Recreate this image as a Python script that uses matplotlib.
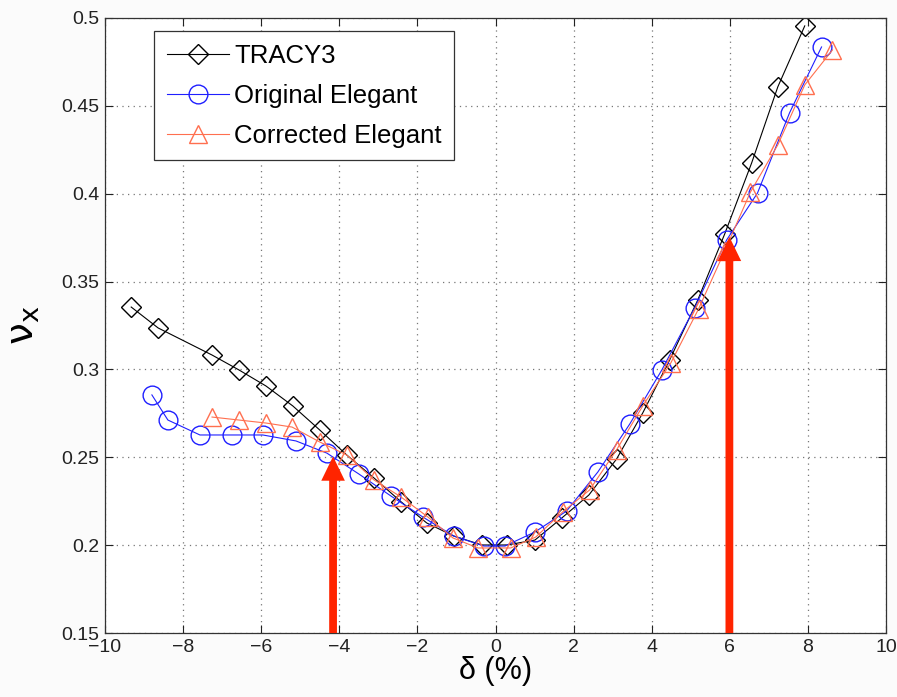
import matplotlib
matplotlib.use("Agg")
import matplotlib.pyplot as plt
from matplotlib.patches import FancyArrowPatch

plt.rcParams["font.family"] = ["Liberation Sans", "DejaVu Sans"]
plt.rcParams["mathtext.fontset"] = "dejavusans"

# TRACY3 (black diamonds)
tracy_x = [-9.33, -8.64, -7.26, -6.57, -5.88, -5.19, -4.50, -3.81, -3.11, -2.42,
           -1.76, -1.07, -0.35, 0.29, 1.01, 1.70, 2.39, 3.10, 3.77, 4.46,
           5.18, 5.87, 6.56, 7.23, 7.92]
tracy_y = [0.3355, 0.3236, 0.3082, 0.2997, 0.2906, 0.2792, 0.2655, 0.2513, 0.2382, 0.2247,
           0.2126, 0.2052, 0.2001, 0.2001, 0.2029, 0.2155, 0.2285, 0.2490, 0.2752, 0.3054,
           0.3395, 0.3771, 0.4175, 0.4608, 0.4955]

# Original Elegant (blue circles)
orig_x = [-8.80, -8.39, -7.57, -6.75, -5.96, -5.11, -4.32, -3.50, -2.68, -1.86,
          -1.07, -0.30, 0.24, 1.01, 1.82, 2.62, 3.44, 4.26, 5.10, 5.92,
          6.71, 7.53, 8.35]
orig_y = [0.2855, 0.2712, 0.2627, 0.2627, 0.2627, 0.2593, 0.2524, 0.2405, 0.2280, 0.2160,
          0.2052, 0.1995, 0.1995, 0.2075, 0.2194, 0.2416, 0.2690, 0.2997, 0.3350, 0.3737,
          0.4004, 0.4460, 0.4835]

# Corrected Elegant (orange triangles)
corr_x = [-7.26, -6.57, -5.88, -5.21, -4.50, -3.81, -3.11, -2.42, -1.73, -1.09,
          -0.45, 0.39, 1.03, 1.72, 2.41, 3.10, 3.77, 4.49, 5.20, 5.87,
          6.53, 7.23, 7.92, 8.63]
corr_y = [0.2729, 0.2712, 0.2695, 0.2672, 0.2587, 0.2513, 0.2371, 0.2274, 0.2160, 0.2041,
          0.1984, 0.1984, 0.2046, 0.2189, 0.2314, 0.2542, 0.2792, 0.3037, 0.3344, 0.3674,
          0.4010, 0.4278, 0.4619, 0.4818]

# red annotation arrows: x position, tip height
arrow_x = [-4.16, 5.99]
arrow_tip = [0.2505, 0.3755]

xticks = [-10, -8, -6, -4, -2, 0, 2, 4, 6, 8, 10]
yticks = [0.15, 0.2, 0.25, 0.3, 0.35, 0.4, 0.45, 0.5]
ytick_labels = ["0.15", "0.2", "0.25", "0.3", "0.35", "0.4", "0.45", "0.5"]

BLUE = "#1f1fff"; ORANGE = "#ff6f4f"; RED = "#ff2400"

fig = plt.figure(figsize=(8.97, 6.97), dpi=100)
fig.patch.set_facecolor("#fbfbfb")
ax = fig.add_axes([0.1171, 0.0918, 0.8706, 0.8824])

ax.plot(tracy_x, tracy_y, color="black", lw=0.8, marker="D", ms=10.2,
        mfc="none", mec="black", mew=1.0, label="TRACY3")
ax.plot(orig_x, orig_y, color=BLUE, lw=0.8, marker="o", ms=13.5,
        mfc="none", mec=BLUE, mew=1.0, label="Original Elegant")
ax.plot(corr_x, corr_y, color=ORANGE, lw=0.8, marker="^", ms=13.5,
        mfc="none", mec=ORANGE, mew=1.0, label="Corrected Elegant")

for xa, ya in zip(arrow_x, arrow_tip):
    arr = FancyArrowPatch((xa, 0.15), (xa, ya),
                          arrowstyle="simple,head_length=1.75,head_width=1.7,tail_width=0.56",
                          mutation_scale=10, color=RED, lw=0, shrinkA=0, shrinkB=0,
                          zorder=5, clip_on=False)
    ax.add_patch(arr)

ax.set_xlim(-10, 10)
ax.set_ylim(0.15, 0.5)
ax.set_xticks(xticks)
ax.set_yticks(yticks)
ax.set_yticklabels(ytick_labels)
ax.tick_params(direction="in", top=True, right=True, length=6, width=0.8,
               labelsize=14, colors="#222222", pad=4)
for s in ax.spines.values():
    s.set_color("#333333"); s.set_linewidth(0.9)
ax.grid(True, color="#777777", linestyle=(0, (1, 3.5)), lw=0.9)

ax.set_xlabel("δ (%)", fontsize=22, labelpad=0)
ax.set_ylabel(r"$\mathrm{\nu}_\mathrm{x}$", fontsize=28, labelpad=14)

leg = ax.legend(loc="upper left", bbox_to_anchor=(0.063, 0.979), borderaxespad=0,
                fontsize=18.5, fancybox=False, framealpha=1, edgecolor="#333333",
                handlelength=2.4, labelspacing=0.62, handletextpad=0.2,
                borderpad=0.5)
leg.get_frame().set_linewidth(0.9)

fig.savefig("out.png", dpi=100, facecolor=fig.get_facecolor())
